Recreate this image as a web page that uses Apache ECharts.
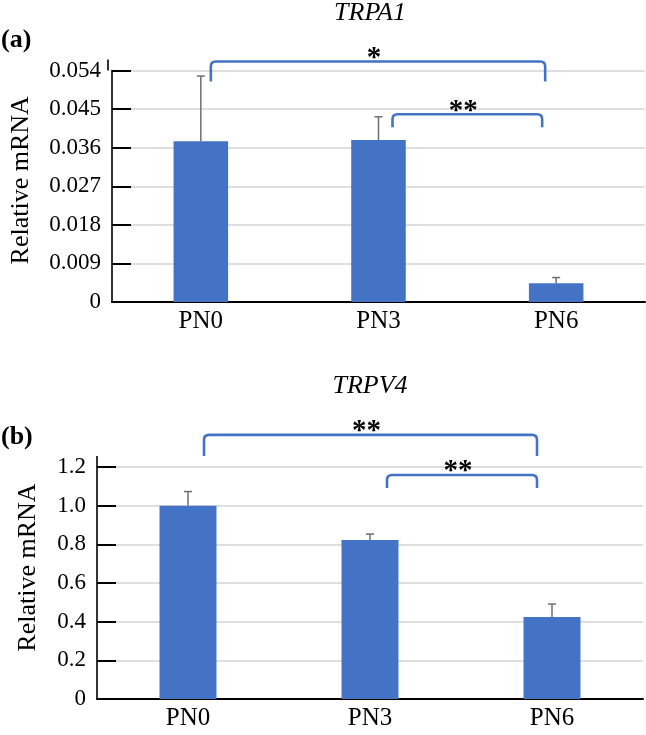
<!DOCTYPE html>
<html><head><meta charset="utf-8">
<script src="https://cdn.jsdelivr.net/npm/echarts@6/dist/echarts.min.js"></script>
<style>html,body{margin:0;padding:0;background:#fff}#c{width:646px;height:735px}</style>
</head><body><div id="c"></div>
<script>
// ---------- data ----------
const categories = ['PN0', 'PN3', 'PN6'];

const trpa1Values = [0.0375, 0.0378, 0.0044];
const trpa1Errors = [0.0152, 0.0054, 0.0013];
const trpa1TickLabels = ['0', '0.009', '0.018', '0.027', '0.036', '0.045', '0.054'];

const trpv4Values = [1.0, 0.823, 0.424];
const trpv4Errors = [0.073, 0.030, 0.067];
const trpv4TickLabels = ['0', '0.2', '0.4', '0.6', '0.8', '1.0', '1.2'];

// significance brackets (category from/to, level on value axis, label)
const trpa1BracketFrom = [0, 1];
const trpa1BracketTo = [2, 2];
const trpa1BracketLevel = [0.0561, 0.0438];
const trpa1BracketLabel = ['*', '**'];

const trpv4BracketFrom = [0, 1];
const trpv4BracketTo = [2, 2];
const trpv4BracketLevel = [1.366, 1.159];
const trpv4BracketLabel = ['**', '**'];

// ---------- styles ----------
const SERIF = '"Liberation Serif","Times New Roman",serif';
const BAR = '#4472C4';
const ERR = '#6e6e6e';
const GRID_L = [108, 97];
const bracketStyle = [
  [{inset: [10, 11], drop: 20}, {inset: [14, 14], drop: 13}],
  [{inset: [16, 15], drop: 21}, {inset: [17, 15], drop: 13}]
];

function axisSpec(labels) {
  return { min: parseFloat(labels[0]), max: parseFloat(labels[labels.length - 1]), interval: parseFloat(labels[1]) - parseFloat(labels[0]) };
}
const ax = [axisSpec(trpa1TickLabels), axisSpec(trpv4TickLabels)];
const tickLabels = [trpa1TickLabels, trpv4TickLabels];

function errRender(params, api) {
  const c = api.value(0), v = api.value(1), e = api.value(2);
  const p0 = api.coord([c, v]);
  const p1 = api.coord([c, v + e]);
  return {
    type: 'group',
    children: [
      { type: 'line', shape: { x1: p0[0], y1: p0[1], x2: p1[0], y2: p1[1] }, style: { stroke: ERR, lineWidth: 1.5 } },
      { type: 'line', shape: { x1: p1[0] - 4, y1: p1[1], x2: p1[0] + 4, y2: p1[1] }, style: { stroke: ERR, lineWidth: 1.5 } }
    ]
  };
}

function bracketRender(panel, labels) {
  return function (params, api) {
    const i = params.dataIndex;
    const st = bracketStyle[panel][i];
    const a = api.coord([api.value(0), api.value(2)]);
    const b = api.coord([api.value(1), api.value(2)]);
    const x1 = a[0] + st.inset[0], x2 = b[0] - st.inset[1], y = a[1], d = st.drop, r = 5;
    const path = 'M' + x1 + ' ' + (y + d) + ' L' + x1 + ' ' + (y + r) + ' Q' + x1 + ' ' + y + ' ' + (x1 + r) + ' ' + y +
      ' L' + (x2 - r) + ' ' + y + ' Q' + x2 + ' ' + y + ' ' + x2 + ' ' + (y + r) + ' L' + x2 + ' ' + (y + d);
    return {
      type: 'group',
      children: [
        { type: 'path', shape: { pathData: path }, style: { fill: null, stroke: BAR, lineWidth: 2.6 } },
        { type: 'text', x: (x1 + x2) / 2 - 4, y: y - 3,
          style: { text: labels[i], font: 'bold 29px ' + SERIF, fill: '#000', align: 'center', verticalAlign: 'middle' } }
      ]
    };
  };
}

function xAxis(gi) {
  return {
    type: 'category', gridIndex: gi, data: categories,
    axisLine: { show: true, lineStyle: { color: '#000', width: 2 } },
    axisTick: { show: false },
    axisLabel: { color: '#000', fontFamily: SERIF, fontSize: 25, margin: 7 },
    splitLine: { show: false }
  };
}
function yAxis(gi, nameGap, shift) {
  return {
    type: 'value', gridIndex: gi, min: ax[gi].min, max: ax[gi].max, interval: ax[gi].interval,
    name: 'Relative mRNA', nameLocation: 'middle', nameGap: nameGap,
    nameTextStyle: { color: '#000', fontFamily: SERIF, fontSize: 26, padding: [0, 0, 0, shift] },
    axisLine: { show: true, lineStyle: { color: '#000', width: 1.6 } },
    axisTick: { show: true, inside: true, length: 19, lineStyle: { color: '#000', width: 2 } },
    axisLabel: { color: '#000', fontFamily: SERIF, fontSize: 23, margin: 11,
      formatter: function (v) { return tickLabels[gi][Math.round((v - ax[gi].min) / ax[gi].interval)]; } },
    splitLine: { show: true, lineStyle: { color: '#d4d4d4', width: 1.5 } }
  };
}

const chart = echarts.init(document.getElementById('c'), null, { renderer: 'canvas' });
const option = {
  backgroundColor: '#fff',
  animation: false,
  title: [
    { text: 'TRPA1', left: 370, top: 0, textAlign: 'center', padding: 0,
      textStyle: { fontFamily: SERIF, fontStyle: 'italic', fontWeight: 'normal', fontSize: 26, color: '#000' } },
    { text: 'TRPV4', left: 370, top: 373, textAlign: 'center', padding: 0,
      textStyle: { fontFamily: SERIF, fontStyle: 'italic', fontWeight: 'normal', fontSize: 26, color: '#000' } },
    { text: '(a)', left: 1, top: 27, padding: 0,
      textStyle: { fontFamily: SERIF, fontWeight: 'bold', fontSize: 26, color: '#000' } },
    { text: '(b)', left: 1, top: 424, padding: 0,
      textStyle: { fontFamily: SERIF, fontWeight: 'bold', fontSize: 26, color: '#000' } }
  ],
  grid: [
    { left: GRID_L[0], right: 1, top: 70.5, height: 231.5 },
    { left: GRID_L[1], right: 3, top: 467, height: 232 }
  ],
  xAxis: [xAxis(0), xAxis(1)],
  yAxis: [yAxis(0, 78, 12), yAxis(1, 56, 31)],
  series: [
    { type: 'bar', xAxisIndex: 0, yAxisIndex: 0, data: trpa1Values, barWidth: '30.7%', itemStyle: { color: BAR }, z: 2 },
    { type: 'custom', xAxisIndex: 0, yAxisIndex: 0, renderItem: errRender, z: 3,
      data: categories.map((c, i) => [i, trpa1Values[i], trpa1Errors[i]]), encode: { x: 0, y: 1 } },
    { type: 'custom', xAxisIndex: 0, yAxisIndex: 0, renderItem: bracketRender(0, trpa1BracketLabel), z: 4, clip: false,
      data: trpa1BracketFrom.map((f, i) => [f, trpa1BracketTo[i], trpa1BracketLevel[i]]), encode: { x: [0, 1], y: 2 } },

    { type: 'bar', xAxisIndex: 1, yAxisIndex: 1, data: trpv4Values, barWidth: '31.3%', itemStyle: { color: BAR }, z: 2 },
    { type: 'custom', xAxisIndex: 1, yAxisIndex: 1, renderItem: errRender, z: 3,
      data: categories.map((c, i) => [i, trpv4Values[i], trpv4Errors[i]]), encode: { x: 0, y: 1 } },
    { type: 'custom', xAxisIndex: 1, yAxisIndex: 1, renderItem: bracketRender(1, trpv4BracketLabel), z: 4, clip: false,
      data: trpv4BracketFrom.map((f, i) => [f, trpv4BracketTo[i], trpv4BracketLevel[i]]), encode: { x: [0, 1], y: 2 } }
  ]
};
chart.setOption(option);

// axis line extends slightly above the top gridline (as in the original figure)
const ext = [];
[0, 1].forEach(function (gi) {
  const yTop = chart.convertToPixel({ yAxisIndex: gi }, ax[gi].max);
  ext.push({ type: 'line', shape: { x1: GRID_L[gi], y1: yTop - 11, x2: GRID_L[gi], y2: yTop }, style: { stroke: '#000', lineWidth: 1.6 }, z: 10 });
});
chart.setOption({ graphic: ext });
</script>
</body></html>
